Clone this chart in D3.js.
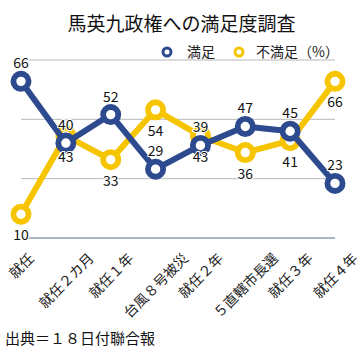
<!DOCTYPE html>
<html>
<head>
<meta charset="utf-8">
<script src="https://cdn.jsdelivr.net/npm/d3@7"></script>
<style>
  html, body { margin: 0; padding: 0; background: #fff; }
  svg { display: block; font-family: "Noto Sans CJK JP", "Noto Sans", sans-serif; }
</style>
</head>
<body>
<svg id="chart" width="363" height="356"></svg>
<script>
const title = "馬英九政権への満足度調査";
const categories = ["就任", "就任２カ月", "就任１年", "台風８号被災", "就任２年", "５直轄市長選", "就任３年", "就任４年"];
const satisfied = [66, 40, 52, 29, 39, 47, 45, 23];
const dissatisfied = [10, 43, 33, 54, 43, 36, 41, 66];
const seriesNames = ["満足", "不満足（%）"];
const yTicks = [25, 50, 75];
const source = "出典＝１８日付聯合報";

const blue = "#2e4a8e";
const yellow = "#f6c500";

const svg = d3.select("#chart");
const x = d3.scalePoint().domain(categories).range([21, 335]);
const y = d3.scaleLinear().domain([0, 75]).range([238, 60]);

// title
svg.append("text").attr("x", 181.5).attr("y", 31)
  .attr("text-anchor", "middle").attr("font-size", 19).attr("fill", "#111")
  .text(title);

// legend
const legend = [
  {name: seriesNames[0], color: blue, cx: 167, tx: 187},
  {name: seriesNames[1], color: yellow, cx: 239, tx: 256}
];
legend.forEach(l => {
  svg.append("circle").attr("cx", l.cx).attr("cy", 52).attr("r", 4)
    .attr("fill", "#fff").attr("stroke", l.color).attr("stroke-width", 3);
  svg.append("text").attr("x", l.tx).attr("y", 57).attr("font-size", 14)
    .attr("fill", "#222").text(l.name);
});

// gridlines
svg.append("g").selectAll("line").data(yTicks).join("line")
  .attr("x1", x.range()[0]).attr("x2", x.range()[1])
  .attr("y1", d => y(d)).attr("y2", d => y(d))
  .attr("stroke", "#b8b8b8").attr("stroke-width", 1);

// x axis
const xAxis = svg.append("g").attr("transform", `translate(0,${y(0)})`)
  .call(d3.axisBottom(x).tickSize(0).tickPadding(0));
xAxis.select(".domain").attr("stroke", "#5d6c84").attr("stroke-width", 1.2)
  .attr("d", `M${x.range()[0]},0H${x.range()[1]}`);
xAxis.selectAll(".tick text")
  .attr("font-size", 14).attr("fill", "#222")
  .attr("font-family", '"Noto Sans CJK JP", sans-serif')
  .attr("text-anchor", "middle").attr("dy", "0.35em").attr("y", 0)
  .each(function() {
    const len = this.getComputedTextLength();
    const cy = 13 + (len + 14) * 0.3536;
    d3.select(this).attr("transform", `translate(0,${cy}) rotate(-45)`);
  });

// lines
const line = d3.line().x((d, i) => x(categories[i])).y(d => y(d));
function drawSeries(vals, color) {
  svg.append("path").datum(vals).attr("d", line)
    .attr("fill", "none").attr("stroke", color).attr("stroke-width", 6)
    .attr("stroke-linejoin", "round");
  svg.append("g").selectAll("circle").data(vals).join("circle")
    .attr("cx", (d, i) => x(categories[i])).attr("cy", d => y(d)).attr("r", 7.6)
    .attr("fill", "#fff").attr("stroke", color).attr("stroke-width", 5.8);
}
drawSeries(dissatisfied, yellow);
drawSeries(satisfied, blue);

// value labels
function drawLabels(vals, dy) {
  svg.append("g").selectAll("text").data(vals).join("text")
    .attr("x", (d, i) => x(categories[i])).attr("y", d => y(d) + dy)
    .attr("text-anchor", "middle").attr("font-size", 14).attr("fill", "#111")
    .attr("stroke", "#fff").attr("stroke-width", 2).attr("paint-order", "stroke")
    .text(d => d);
}
drawLabels(satisfied, -13);
drawLabels(dissatisfied, 26);

// source
svg.append("text").attr("x", 5).attr("y", 344).attr("font-size", 15)
  .attr("fill", "#111").text(source);
</script>
</body>
</html>
